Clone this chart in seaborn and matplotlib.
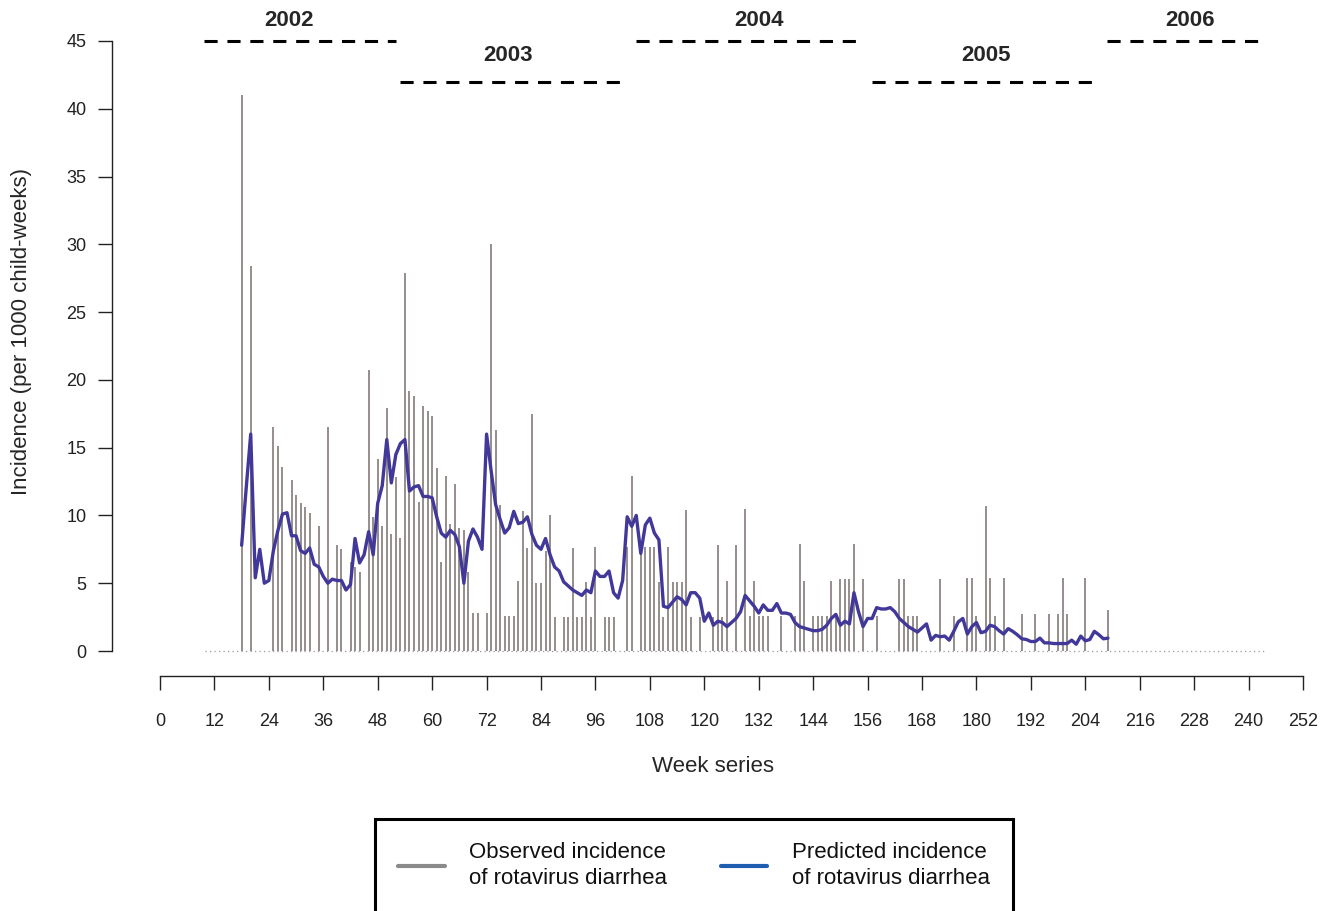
import numpy as np
import matplotlib
matplotlib.use("Agg")
import matplotlib.pyplot as plt
import seaborn as sns
from matplotlib.lines import Line2D

# Weekly series, starting at week 18
first_week = 18
observed = [
    41.0, 0, 28.4, 0, 0, 0, 0, 16.5, 15.1, 13.6,          # 18-27
    0, 12.6, 11.5, 10.9, 10.6, 10.2, 0, 9.2, 0, 16.5,      # 28-37
    0, 7.8, 7.5, 0, 6.6, 6.2, 5.8, 0, 20.7, 9.9,           # 38-47
    14.2, 9.2, 17.9, 8.6, 12.8, 8.3, 27.9, 19.2, 18.8, 11.0,  # 48-57
    18.1, 17.7, 17.3, 13.5, 6.6, 12.9, 9.4, 12.3, 9.1, 8.9,   # 58-67
    5.8, 2.8, 2.8, 0, 2.8, 30.0, 16.3, 10.8, 2.6, 2.6,     # 68-77
    2.6, 5.2, 10.3, 7.6, 17.5, 5.0, 5.0, 7.4, 10.0, 2.5,   # 78-87
    0, 2.5, 2.5, 7.6, 2.5, 2.5, 5.1, 2.5, 7.7, 0,          # 88-97
    2.5, 2.5, 2.5, 0, 0, 7.7, 12.9, 0, 7.7, 7.7,           # 98-107
    7.7, 7.7, 5.1, 2.5, 7.7, 5.1, 5.1, 5.1, 10.4, 2.5,     # 108-117
    0, 2.5, 0, 0, 2.5, 7.8, 2.5, 5.2, 0, 7.8,              # 118-127
    0, 10.5, 2.6, 5.2, 2.6, 2.6, 2.6, 0, 0, 2.6,           # 128-137
    0, 0, 2.6, 7.9, 5.2, 0, 2.6, 2.6, 2.6, 2.6,            # 138-147
    5.2, 2.6, 5.3, 5.3, 5.3, 7.9, 0, 5.3, 0, 0,            # 148-157
    2.6, 0, 0, 0, 0, 5.3, 5.3, 2.6, 2.6, 2.6,              # 158-167
    0, 0, 0, 0, 5.3, 0, 0, 2.6, 0, 0,                      # 168-177
    5.4, 5.4, 2.6, 0, 10.7, 5.4, 2.6, 0, 5.4, 0,           # 178-187
    0, 0, 2.7, 0, 0, 2.7, 0, 0, 2.7, 0,                    # 188-197
    2.7, 5.4, 2.7, 0, 0, 0, 5.4, 0, 0, 0,                  # 198-207
    0, 3.0,                                                # 208-209
]
predicted = [
    7.8, 12.0, 16.0, 5.4, 7.5, 5.0, 5.2, 7.4, 8.9, 10.1,
    10.2, 8.5, 8.5, 7.4, 7.2, 7.6, 6.4, 6.2, 5.5, 5.0,
    5.3, 5.2, 5.2, 4.5, 4.9, 8.3, 6.5, 7.1, 8.8, 7.1,
    10.9, 12.2, 15.6, 12.4, 14.5, 15.3, 15.6, 11.8, 12.1, 12.2,
    11.4, 11.4, 11.3, 9.9, 8.7, 8.4, 8.9, 8.6, 7.7, 5.0,
    8.1, 9.0, 8.4, 7.5, 16.0, 13.3, 10.8, 9.7, 8.7, 9.1,
    10.3, 9.4, 9.5, 9.9, 8.6, 7.8, 7.5, 8.3, 7.1, 6.2,
    5.9, 5.1, 4.8, 4.5, 4.3, 4.1, 4.5, 4.3, 5.9, 5.5,
    5.5, 5.9, 4.3, 3.9, 5.2, 9.9, 9.2, 10.0, 7.2, 9.3,
    9.8, 8.7, 8.2, 3.3, 3.2, 3.6, 4.0, 3.8, 3.4, 4.3,
    4.3, 3.9, 2.2, 2.8, 1.9, 2.2, 2.1, 1.8, 2.1, 2.4,
    2.9, 4.1, 3.7, 3.3, 2.8, 3.4, 3.0, 3.0, 3.5, 2.8,
    2.8, 2.7, 2.1, 1.8, 1.7, 1.6, 1.5, 1.5, 1.6, 1.9,
    2.4, 2.7, 1.9, 2.2, 2.0, 4.3, 2.9, 1.8, 2.4, 2.4,
    3.2, 3.1, 3.1, 3.2, 2.9, 2.4, 2.1, 1.8, 1.6, 1.4,
    1.7, 2.0, 0.8, 1.15, 1.05, 1.1, 0.8, 1.45, 2.15, 2.4,
    1.25, 1.8, 2.1, 1.35, 1.45, 1.9, 1.8, 1.5, 1.25, 1.65,
    1.45, 1.2, 0.9, 0.85, 0.7, 0.7, 0.95, 0.6, 0.6, 0.55,
    0.55, 0.55, 0.55, 0.8, 0.5, 1.1, 0.75, 0.85, 1.45, 1.2,
    0.9, 0.95,
]
weeks = np.arange(first_week, first_week + len(observed))
observed = np.array(observed)
predicted = np.array(predicted)

# Calendar years above the series
year_labels = ["2002", "2003", "2004", "2005", "2006"]
year_spans = [(9.7, 52.0), (52.9, 102.5), (104.9, 154.1), (156.9, 206.0), (208.8, 243.2)]
year_levels = [45, 42, 45, 42, 45]
year_label_x = [28.4, 76.8, 132.0, 182.0, 227.0]
year_label_y = [46.5, 43.9, 46.5, 43.9, 46.5]
series_span = (10, 243.5)

x_ticks = list(range(0, 253, 12))
y_ticks = list(range(0, 46, 5))

sns.set_style("ticks")
plt.rcParams["font.family"] = ["Liberation Sans", "DejaVu Sans"]

W, H = 1333, 911
fig = plt.figure(figsize=(W / 100, H / 100), dpi=100)
left_px, right_px, top_px, bottom_px = 112, 1303, 10, 676
ax = fig.add_axes([left_px / W, 1 - bottom_px / H,
                   (right_px - left_px) / W, (bottom_px - top_px) / H])

obs_color = "#8c8582"
pred_color = "#41389a"

# zero baseline of the whole week series
ax.plot(series_span, [0, 0], color="#9a9a9a", lw=0.9, linestyle=(0, (1, 2.6)))

mask = observed > 0
ax.vlines(weeks[mask], 0, observed[mask], color=obs_color, lw=1.3)
sns.lineplot(x=weeks, y=predicted, ax=ax, color=pred_color, lw=2.4)

for (x0, x1), lvl in zip(year_spans, year_levels):
    ax.plot([x0, x1], [lvl, lvl], color="black", lw=2.2, linestyle=(0, (4.3, 3.2)),
            solid_capstyle="butt", dash_capstyle="butt")
for lab, x, y in zip(year_labels, year_label_x, year_label_y):
    ax.text(x, y, lab, ha="center", va="center", fontsize=16, fontweight="bold")

ax.set_xlim((left_px - 160) / 4.5357, 252)
ax.set_ylim(-(bottom_px - 651) / 13.556, (651 - top_px) / 13.556)

sns.despine(ax=ax)
ax.spines["left"].set_bounds(0, 45)
ax.spines["bottom"].set_bounds(0, 252)
for s in ("left", "bottom"):
    ax.spines[s].set_linewidth(1.0)
    ax.spines[s].set_color("#222222")

ax.set_xticks(x_ticks)
ax.set_yticks(y_ticks)
ax.tick_params(axis="both", direction="out", length=10, width=1.0,
               color="#222222", labelsize=13, labelcolor="#222222")
ax.tick_params(axis="x", pad=16.5)
ax.tick_params(axis="y", pad=8.5)

ax.set_xlabel("Week series", fontsize=16)
ax.set_ylabel("Incidence (per 1000 child-weeks)", fontsize=16)
ax.xaxis.label.set_va("center")
ax.yaxis.label.set_va("center")
ax.xaxis.set_label_coords((713 - left_px) / (right_px - left_px), -(766 - bottom_px) / (bottom_px - top_px))
ax.yaxis.set_label_coords((22 - left_px) / (right_px - left_px), (bottom_px - 332) / (bottom_px - top_px))

handles = [Line2D([], [], color="#8a8a8a", lw=3),
           Line2D([], [], color="#1f5db0", lw=3)]
labels = ["Observed incidence\nof rotavirus diarrhea",
          "Predicted incidence\nof rotavirus diarrhea"]
leg = fig.legend(handles, labels, loc="upper left",
                 bbox_to_anchor=(375 / W, 1 - 819 / H), ncol=2, fontsize=16,
                 frameon=True, fancybox=False, edgecolor="black", framealpha=1,
                 borderpad=1.05, borderaxespad=0, handlelength=2.1,
                 handletextpad=1.1, columnspacing=2.4)
leg.get_frame().set_linewidth(2.2)
for t in leg.get_texts():
    t.set_linespacing(1.32)
    t.set_color("#111111")

fig.savefig("out.png", dpi=100, facecolor="white")
